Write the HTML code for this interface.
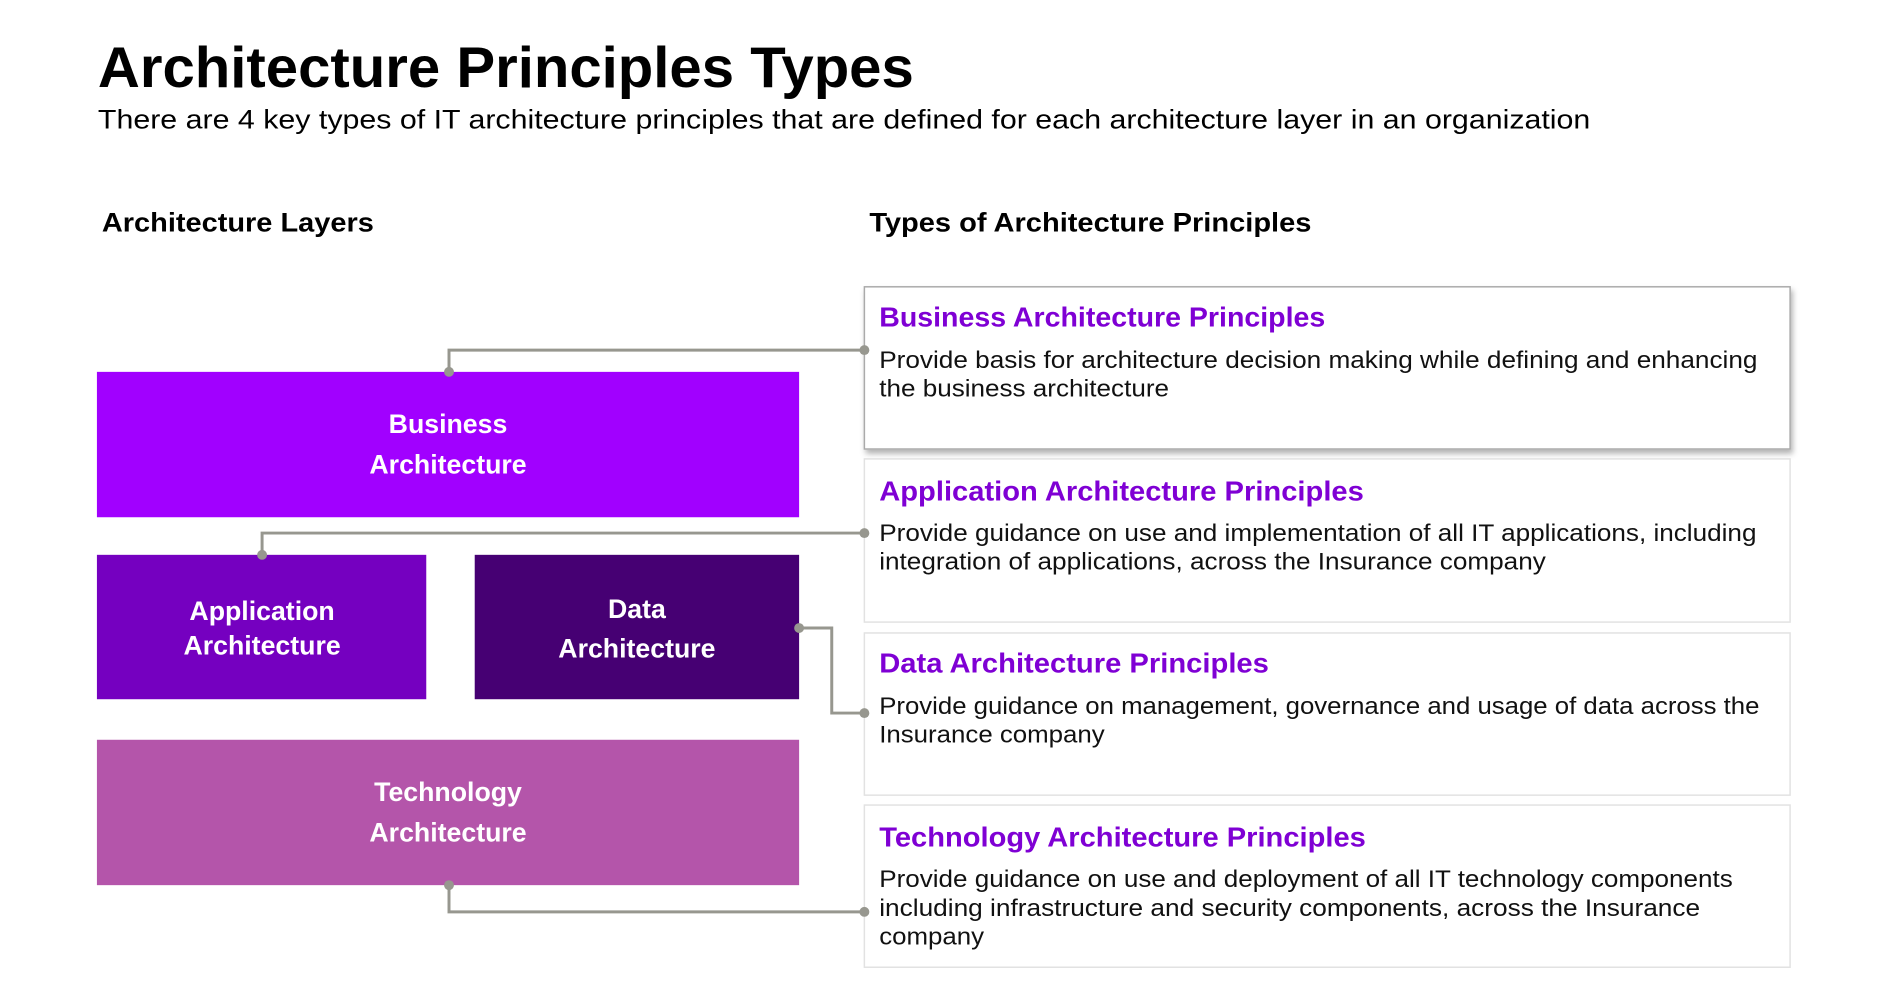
<!DOCTYPE html>
<html><head><meta charset="utf-8"><style>html,body{margin:0;padding:0;background:#fff}svg{display:block}</style></head><body>
<svg width="1903" height="994" viewBox="0 0 1903 994" xmlns="http://www.w3.org/2000/svg" font-family="Liberation Sans, sans-serif">
<defs><filter id="sh" x="-5%" y="-10%" width="110%" height="130%"><feDropShadow dx="2" dy="4" stdDeviation="3" flood-color="#000" flood-opacity="0.3"/></filter></defs>
<g transform="scale(0.989)">
<text x="99" y="88" font-size="58" font-weight="bold" fill="#000" textLength="825" lengthAdjust="spacingAndGlyphs">Architecture Principles Types</text>
<text x="99" y="130" font-size="27" fill="#000" textLength="1509" lengthAdjust="spacingAndGlyphs">There are 4 key types of IT architecture principles that are defined for each architecture layer in an organization</text>
<text x="103" y="234" font-size="27" font-weight="bold" fill="#000" textLength="275" lengthAdjust="spacingAndGlyphs">Architecture Layers</text>
<text x="879" y="234" font-size="27" font-weight="bold" fill="#000" textLength="447" lengthAdjust="spacingAndGlyphs">Types of Architecture Principles</text>

<rect x="98" y="376" width="710" height="147" fill="#A100FF"/>
<rect x="98" y="561" width="333" height="146" fill="#7500C0"/>
<rect x="480" y="561" width="328" height="146" fill="#460073"/>
<rect x="98" y="748" width="710" height="147" fill="#B455AA"/>
<g fill="#fff" font-size="27" font-weight="bold" text-anchor="middle">
<text x="453" y="438">Business</text><text x="453" y="479">Architecture</text>
<text x="265" y="627">Application</text><text x="265" y="662">Architecture</text>
<text x="644" y="625">Data</text><text x="644" y="665">Architecture</text>
<text x="453" y="810">Technology</text><text x="453" y="851">Architecture</text>
</g>

<rect x="874" y="290" width="936" height="164" fill="#fff" stroke="#aaa" stroke-width="1.5" filter="url(#sh)"/>
<rect x="874" y="464" width="936" height="165" fill="#fff" stroke="#e2e2e2" stroke-width="1.5"/>
<rect x="874" y="640" width="936" height="164" fill="#fff" stroke="#e2e2e2" stroke-width="1.5"/>
<rect x="874" y="814" width="936" height="164" fill="#fff" stroke="#e2e2e2" stroke-width="1.5"/>

<g fill="#7F00D4" font-size="28" font-weight="bold">
<text x="889" y="330" textLength="451" lengthAdjust="spacingAndGlyphs">Business Architecture Principles</text>
<text x="889" y="506" textLength="490" lengthAdjust="spacingAndGlyphs">Application Architecture Principles</text>
<text x="889" y="680" textLength="394" lengthAdjust="spacingAndGlyphs">Data Architecture Principles</text>
<text x="889" y="856" textLength="492" lengthAdjust="spacingAndGlyphs">Technology Architecture Principles</text>
</g>
<g fill="#111" font-size="24">
<text x="889" y="372" textLength="888" lengthAdjust="spacingAndGlyphs">Provide basis for architecture decision making while defining and enhancing</text>
<text x="889" y="401" textLength="293" lengthAdjust="spacingAndGlyphs">the business architecture</text>
<text x="889" y="547" textLength="887" lengthAdjust="spacingAndGlyphs">Provide guidance on use and implementation of all IT applications, including</text>
<text x="889" y="576" textLength="674" lengthAdjust="spacingAndGlyphs">integration of applications, across the Insurance company</text>
<text x="889" y="722" textLength="890" lengthAdjust="spacingAndGlyphs">Provide guidance on management, governance and usage of data across the</text>
<text x="889" y="751" textLength="228" lengthAdjust="spacingAndGlyphs">Insurance company</text>
<text x="889" y="897" textLength="863" lengthAdjust="spacingAndGlyphs">Provide guidance on use and deployment of all IT technology components</text>
<text x="889" y="926" textLength="830" lengthAdjust="spacingAndGlyphs">including infrastructure and security components, across the Insurance</text>
<text x="889" y="955" textLength="106" lengthAdjust="spacingAndGlyphs">company</text>
</g>

<g stroke="#97978F" stroke-width="3" fill="none">
<polyline points="454,376 454,354 874,354"/>
<polyline points="265,561 265,539 874,539"/>
<polyline points="808,635 841,635 841,721 874,721"/>
<polyline points="454,895 454,922 874,922"/>
</g>
<g fill="#97978F">
<circle cx="454" cy="376" r="5"/><circle cx="874" cy="354" r="5"/>
<circle cx="265" cy="561" r="5"/><circle cx="874" cy="539" r="5"/>
<circle cx="808" cy="635" r="5"/><circle cx="874" cy="721" r="5"/>
<circle cx="454" cy="895" r="5"/><circle cx="874" cy="922" r="5"/>
</g>
</g>
</svg>
</body></html>
